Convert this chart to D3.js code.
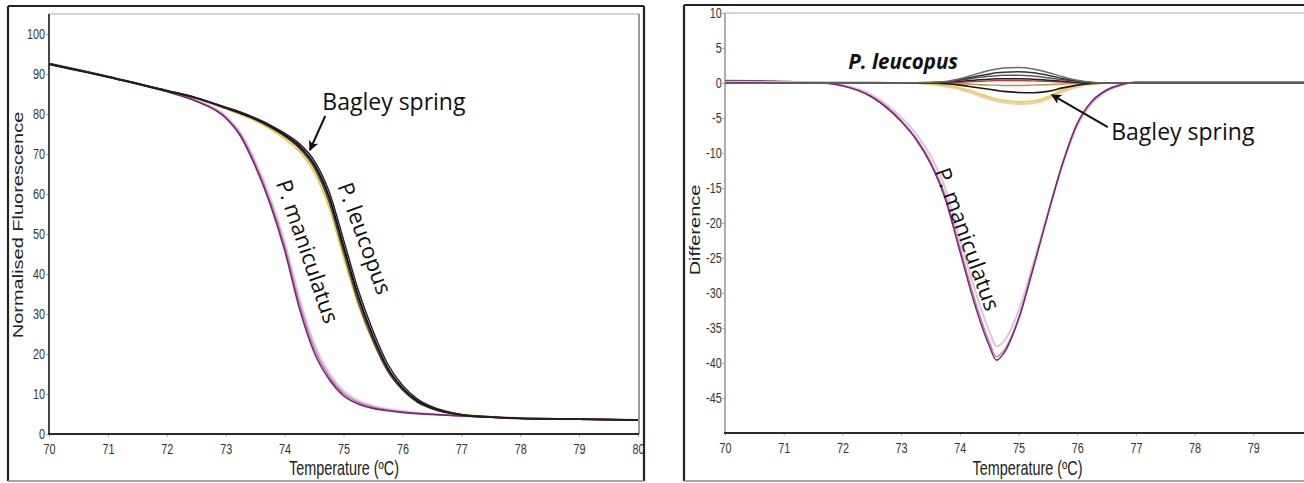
<!DOCTYPE html>
<html>
<head>
<meta charset="utf-8">
<script src="https://cdn.jsdelivr.net/npm/d3@7"></script>
<style>
  html, body { margin: 0; padding: 0; background: #fff; overflow: hidden; }
  svg { display: block; }
</style>
</head>
<body>
<svg id="chart" width="1304" height="483"></svg>
<script>
// ---------- Melt curves: normalised fluorescence (left panel) ----------
const tempMelt = [70, 71, 72, 72.5, 73, 73.25, 73.5, 73.75, 74, 74.25, 74.5, 74.75, 75, 75.25, 75.5, 75.75, 76, 76.25, 76.5, 77, 77.5, 78, 79, 80];

const maniculatusLight = [92.7, 89.4, 85.7, 83.4, 79.5, 75.3, 68.2, 59.2, 48.0, 34.0, 22.6, 15.3, 10.8, 8.3, 7.0, 6.2, 5.7, 5.3, 5.0, 4.6, 4.3, 4.0, 3.7, 3.5];
const maniculatusMid   = [92.6, 89.3, 85.6, 83.3, 79.2, 74.9, 67.6, 58.4, 47.0, 32.7, 21.5, 14.5, 10.2, 7.9, 6.7, 6.0, 5.5, 5.2, 4.9, 4.5, 4.2, 4.0, 3.7, 3.5];
const maniculatusDark  = [92.6, 89.3, 85.6, 83.2, 79.0, 74.5, 67.0, 57.7, 46.0, 31.5, 20.5, 13.8, 9.6, 7.5, 6.4, 5.8, 5.4, 5.1, 4.9, 4.5, 4.2, 4.0, 3.7, 3.5];

const leucopusYellow = [92.5, 89.3, 85.8, 83.9, 81.3, 79.9, 78.3, 76.3, 73.8, 70.6, 65.5, 56.8, 44.2, 32.2, 23.0, 15.8, 11.2, 8.3, 6.6, 4.9, 4.3, 4.0, 3.7, 3.5];
const leucopusGrey   = [92.4, 89.2, 85.7, 83.9, 81.4, 80.1, 78.6, 76.7, 74.4, 71.4, 66.6, 58.2, 45.5, 33.0, 23.3, 15.7, 11.0, 8.0, 6.3, 4.7, 4.2, 3.9, 3.7, 3.5];
const leucopusRed    = [92.5, 89.3, 85.8, 84.0, 81.5, 80.2, 78.7, 76.9, 74.6, 71.8, 67.2, 59.0, 46.5, 34.0, 24.0, 16.2, 11.3, 8.2, 6.4, 4.8, 4.2, 3.9, 3.7, 3.5];
const leucopusBlack  = [92.5, 89.3, 85.8, 84.0, 81.6, 80.3, 78.8, 77.0, 74.8, 72.0, 67.5, 59.5, 47.0, 34.5, 24.5, 16.5, 11.5, 8.3, 6.5, 4.8, 4.2, 3.9, 3.7, 3.5];
const leucopusBlack2 = [92.6, 89.4, 85.9, 84.1, 81.7, 80.5, 79.0, 77.3, 75.2, 72.6, 68.4, 60.8, 48.6, 36.0, 25.8, 17.5, 12.2, 8.8, 6.8, 4.9, 4.3, 3.9, 3.7, 3.5];

const ticksMeltX = [70, 71, 72, 73, 74, 75, 76, 77, 78, 79, 80];
const ticksMeltY = [0, 10, 20, 30, 40, 50, 60, 70, 80, 90, 100];

// ---------- Difference plot (right panel) ----------
const tempDiff = [70, 70.5, 71, 71.5, 72, 72.5, 73, 73.25, 73.5, 73.75, 74, 74.25, 74.5, 74.625, 74.75, 75, 75.25, 75.5, 75.75, 76, 76.25, 76.5, 76.75, 77, 77.5, 78, 78.5, 79, 80];

const diffManicLight = [0.4, 0.3, 0.2, 0.1, -0.3, -1.7, -4.9, -7.2, -10.4, -15.0, -22.2, -29.4, -35.4, -37.6, -36.9, -32.6, -25.8, -18.6, -11.7, -6.1, -2.9, -1.2, -0.3, 0.1, 0.1, 0.1, 0.1, 0.1, 0.1];
const diffManicMid   = [0.3, 0.3, 0.2, 0.1, -0.4, -1.9, -5.3, -7.8, -11.2, -16.0, -23.4, -30.8, -36.9, -39.1, -38.2, -33.6, -26.4, -18.8, -11.6, -5.9, -2.7, -1.1, -0.3, 0.1, 0.1, 0.1, 0.1, 0.1, 0.1];
const diffManicDark  = [0.3, 0.3, 0.2, 0.1, -0.4, -2.0, -5.5, -8.0, -11.5, -16.5, -24.0, -31.5, -37.5, -39.6, -38.6, -33.8, -26.5, -18.8, -11.5, -5.8, -2.6, -1.0, -0.2, 0.1, 0.1, 0.1, 0.1, 0.1, 0.1];

const diffPink     = [0.1, 0.1, 0.1, 0.1, 0.1, 0.1, 0.0, 0.0, -0.2, -0.5, -0.9, -1.6, -2.3, -2.6, -2.8, -3.0, -2.9, -2.3, -1.3, -0.6, -0.2, 0.0, 0.0, 0.0, 0.0, 0.0, 0.0, 0.0, 0.0];
const diffYellow   = [0.1, 0.1, 0.1, 0.1, 0.1, 0.1, 0.0, 0.0, -0.1, -0.3, -0.7, -1.3, -2.0, -2.3, -2.5, -2.7, -2.6, -2.0, -1.0, -0.4, -0.1, 0.0, 0.0, 0.0, 0.0, 0.0, 0.0, 0.0, 0.0];
const diffLowBlack = [0.0, 0.0, 0.0, 0.0, 0.0, 0.0, 0.0, 0.0, 0.0, -0.1, -0.3, -0.6, -0.9, -1.05, -1.2, -1.35, -1.4, -1.2, -0.7, -0.3, -0.05, 0.0, 0.0, 0.0, 0.0, 0.0, 0.0, 0.0, 0.0];
const diffBrown    = [0.0, 0.0, 0.0, 0.0, 0.0, 0.0, 0.0, 0.0, 0.0, 0.0, -0.1, -0.2, -0.3, -0.3, -0.35, -0.35, -0.3, -0.25, -0.15, -0.05, 0.0, 0.0, 0.0, 0.0, 0.0, 0.0, 0.0, 0.0, 0.0];
const diffRed      = [0.0, 0.0, 0.0, 0.0, 0.0, 0.0, 0.0, 0.0, 0.0, 0.05, 0.1, 0.2, 0.3, 0.35, 0.35, 0.35, 0.3, 0.25, 0.15, 0.05, 0.0, 0.0, 0.0, 0.0, 0.0, 0.0, 0.0, 0.0, 0.0];
const diffUp1      = [0.0, 0.0, 0.0, 0.0, 0.0, 0.0, 0.0, 0.0, 0.05, 0.1, 0.25, 0.4, 0.55, 0.6, 0.62, 0.62, 0.55, 0.4, 0.25, 0.1, 0.02, 0.0, 0.0, 0.0, 0.0, 0.0, 0.0, 0.0, 0.0];
const diffUp2      = [0.0, 0.0, 0.0, 0.0, 0.0, 0.0, 0.0, 0.0, 0.05, 0.15, 0.4, 0.7, 0.95, 1.05, 1.1, 1.1, 1.0, 0.75, 0.45, 0.2, 0.05, 0.0, 0.0, 0.0, 0.0, 0.0, 0.0, 0.0, 0.0];
const diffUp3      = [0.0, 0.0, 0.0, 0.0, 0.0, 0.0, 0.0, 0.0, 0.05, 0.15, 0.45, 0.9, 1.3, 1.45, 1.55, 1.6, 1.45, 1.1, 0.65, 0.3, 0.08, 0.0, 0.0, 0.0, 0.0, 0.0, 0.0, 0.0, 0.0];
const diffUp4      = [0.0, 0.0, 0.0, 0.0, 0.0, 0.0, 0.0, 0.05, 0.1, 0.2, 0.6, 1.2, 1.8, 2.0, 2.15, 2.2, 2.0, 1.5, 0.9, 0.4, 0.1, 0.0, 0.0, 0.0, 0.0, 0.0, 0.0, 0.0, 0.0];

const ticksDiffX = [70, 71, 72, 73, 74, 75, 76, 77, 78, 79, 80];
const ticksDiffY = [10, 5, 0, -5, -10, -15, -20, -25, -30, -35, -40, -45];

// ---------- Drawing ----------
const svg = d3.select("#chart");
const squeeze = 0.72;               // axis text is drawn horizontally condensed
const axisFont = "'Liberation Sans', Arial, sans-serif";
const noteFont = "'Open Sans', Lato, sans-serif";

const xL = d3.scaleLinear().domain([70, 80]).range([49, 638]);
const yL = d3.scaleLinear().domain([0, 105]).range([434, 14]);
const xR = d3.scaleLinear().domain([70, 80]).range([725, 1312]);
const yR = d3.scaleLinear().domain([-50, 10]).range([433, 13]);

const defs = svg.append("defs");
defs.append("marker")
  .attr("id", "arrow")
  .attr("viewBox", "0 0 10 10")
  .attr("refX", 9).attr("refY", 5)
  .attr("markerWidth", 11).attr("markerHeight", 10)
  .attr("markerUnits", "userSpaceOnUse")
  .attr("orient", "auto")
  .append("path").attr("d", "M0,0 L10,5 L0,10 L2.5,5 Z").attr("fill", "#111");

defs.append("clipPath").attr("id", "clipL")
  .append("rect").attr("x", 49).attr("y", 14).attr("width", 589).attr("height", 420);
defs.append("clipPath").attr("id", "clipR")
  .append("rect").attr("x", 725).attr("y", 13).attr("width", 600).attr("height", 420);

// Panel outlines
function panelFrame(x0, y0, x1, y1) {
  const g = svg.append("g");
  g.append("line").attr("x1", x0).attr("y1", y0).attr("x2", x1).attr("y2", y0).attr("stroke", "#222").attr("stroke-width", 2.2);
  g.append("line").attr("x1", x0).attr("y1", y0).attr("x2", x0).attr("y2", y1).attr("stroke", "#222").attr("stroke-width", 2.2);
  g.append("line").attr("x1", x1).attr("y1", y0).attr("x2", x1).attr("y2", y1).attr("stroke", "#222").attr("stroke-width", 2.2);
  g.append("line").attr("x1", x0).attr("y1", y1).attr("x2", x1).attr("y2", y1).attr("stroke", "#8a8a8a").attr("stroke-width", 1.6);
}
panelFrame(8, 6, 644, 481);
panelFrame(684, 5, 1320, 481);

function styleAxis(g) {
  g.select(".domain").remove();
  g.attr("font-family", null).attr("font-size", null);
  g.selectAll(".tick line").attr("stroke", "#b0b0b0").attr("stroke-width", 1);
  g.selectAll(".tick text")
    .attr("font-family", axisFont)
    .attr("font-size", 15)
    .attr("fill", "#333")
    .attr("transform", `scale(${squeeze},1)`);
}

function drawAxes(x, y, xt, yt, yPad, leftColor, plotTop, plotRight, xTitle, yTitle, yTitleX, yTitleY) {
  const gx = svg.append("g").attr("transform", `translate(0,${y.range()[0]})`)
    .call(d3.axisBottom(x).tickValues(xt).tickSize(3).tickPadding(6).tickFormat(d => String(d)));
  styleAxis(gx);
  const gy = svg.append("g").attr("transform", `translate(${x.range()[0]},0)`)
    .call(d3.axisLeft(y).tickValues(yt).tickSize(3).tickPadding(yPad).tickFormat(d => String(d)));
  styleAxis(gy);

  const x0 = x.range()[0], y0 = y.range()[0];
  // plot frame: grey top/right, axes left/bottom
  svg.append("line").attr("x1", x0).attr("y1", plotTop).attr("x2", plotRight).attr("y2", plotTop)
    .attr("stroke", "#a8a8a8").attr("stroke-width", 1.2);
  svg.append("line").attr("x1", plotRight).attr("y1", plotTop).attr("x2", plotRight).attr("y2", y0)
    .attr("stroke", "#555").attr("stroke-width", 1.2);
  svg.append("line").attr("x1", x0).attr("y1", plotTop).attr("x2", x0).attr("y2", y0 + 1)
    .attr("stroke", leftColor).attr("stroke-width", 1.6);
  svg.append("line").attr("x1", x0 - 1).attr("y1", y0).attr("x2", plotRight).attr("y2", y0)
    .attr("stroke", "#2a2a2a").attr("stroke-width", 2);

  const cx = (x0 + plotRight) / 2;
  svg.append("g").attr("transform", `translate(${cx},475) scale(${squeeze},1)`)
    .append("text").attr("text-anchor", "middle")
    .attr("font-family", axisFont).attr("font-size", 20).attr("fill", "#222")
    .text(xTitle);
  svg.append("g").attr("transform", `translate(${yTitleX},${yTitleY}) scale(${squeeze},1)`)
    .append("text").attr("transform", "rotate(-90)").attr("text-anchor", "middle")
    .attr("font-family", axisFont).attr("font-size", 20).attr("fill", "#222")
    .text(yTitle);
}

drawAxes(xL, yL, ticksMeltX, ticksMeltY, 2.6, "#1a1a1a", 14, 639, "Temperature (ºC)", "Normalised Fluorescence", 23, 225);
drawAxes(xR, yR, ticksDiffX.filter(t => t < 80), ticksDiffY, 1.6, "#9a9a9a", 13, 1330, "Temperature (ºC)", "Difference", 700, 230);

function drawCurves(clipId, x, y, temps, series) {
  const gen = d3.line().x((d, i) => x(temps[i])).y(d => y(d)).curve(d3.curveMonotoneX);
  const g = svg.append("g").attr("clip-path", `url(#${clipId})`);
  series.forEach(s => {
    g.append("path").datum(s.values)
      .attr("d", gen)
      .attr("fill", "none")
      .attr("stroke", s.color)
      .attr("stroke-width", s.width)
      .attr("stroke-opacity", s.opacity)
      .attr("stroke-linejoin", "round");
  });
}

drawCurves("clipL", xL, yL, tempMelt, [
  { values: maniculatusLight, color: "#e6bfe0", width: 2.2, opacity: 1 },
  { values: maniculatusMid,   color: "#b06aa8", width: 1.4, opacity: 0.9 },
  { values: maniculatusDark,  color: "#7a2670", width: 1.6, opacity: 1 },
  { values: leucopusYellow,   color: "#e8cf3a", width: 1.6, opacity: 1 },
  { values: leucopusGrey,     color: "#4a4a4a", width: 1.5, opacity: 1 },
  { values: leucopusRed,      color: "#8a2b2b", width: 1.3, opacity: 1 },
  { values: leucopusBlack,    color: "#111111", width: 1.8, opacity: 1 },
  { values: leucopusBlack2,   color: "#222233", width: 1.5, opacity: 1 }
]);

drawCurves("clipR", xR, yR, tempDiff, [
  { values: diffManicLight, color: "#e6bfe0", width: 2, opacity: 1 },
  { values: diffManicMid,   color: "#b06aa8", width: 1.3, opacity: 0.9 },
  { values: diffManicDark,  color: "#7a2670", width: 1.5, opacity: 1 },
  { values: diffPink,       color: "#ecc4dc", width: 1.8, opacity: 1 },
  { values: diffYellow,     color: "#ecd52e", width: 2, opacity: 1 },
  { values: diffBrown,      color: "#c48a4a", width: 1.4, opacity: 1 },
  { values: diffRed,        color: "#c23a3a", width: 1.4, opacity: 1 },
  { values: diffLowBlack,   color: "#1a1a1a", width: 1.6, opacity: 1 },
  { values: diffUp1,        color: "#222222", width: 1.5, opacity: 1 },
  { values: diffUp2,        color: "#5a5a5a", width: 1.5, opacity: 1 },
  { values: diffUp3,        color: "#333333", width: 1.5, opacity: 1 },
  { values: diffUp4,        color: "#6a6a6a", width: 1.5, opacity: 1 }
]);

// ---------- Annotations ----------
function note(x, y, text, opts) {
  const t = svg.append("text")
    .attr("font-family", noteFont)
    .attr("font-size", opts.size)
    .attr("font-weight", opts.weight || "normal")
    .attr("font-style", opts.italic ? "italic" : "normal")
    .attr("fill", "#111")
    .text(text);
  if (opts.angle !== undefined) {
    t.attr("text-anchor", "middle").attr("dominant-baseline", "middle")
     .attr("transform", `translate(${x},${y}) rotate(${opts.angle})`);
  } else {
    t.attr("x", x).attr("y", y);
  }
}
function arrow(x1, y1, x2, y2) {
  svg.append("line").attr("x1", x1).attr("y1", y1).attr("x2", x2).attr("y2", y2)
    .attr("stroke", "#111").attr("stroke-width", 2).attr("marker-end", "url(#arrow)");
}

// left panel
note(xL(74.64), yL(81), "Bagley spring", { size: 23 });
arrow(xL(74.69), yL(79.5), xL(74.43), yL(71));
note(xL(75.33), yL(48.75), "P. leucopus", { size: 22, angle: 70 });
note(xL(74.36), yL(45.5), "P. maniculatus", { size: 22, angle: 71 });

// right panel
note(xR(72.1), yR(2.0), "P. leucopus", { size: 20.5, italic: true, weight: "bold" });
note(xR(76.58), yR(-8.1), "Bagley spring", { size: 23 });
arrow(xR(76.52), yR(-6.3), xR(75.57), yR(-1.7));
note(xR(74.1), yR(-22.4), "P. maniculatus", { size: 22, angle: 70 });
</script>
</body>
</html>
